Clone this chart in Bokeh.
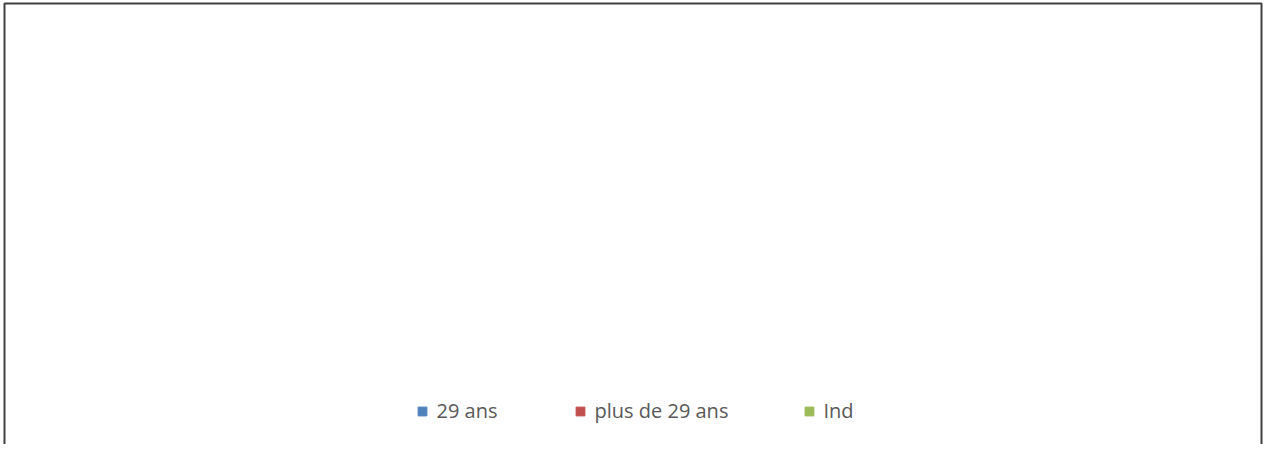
import math
from bokeh.plotting import figure
from bokeh.models import Legend, LegendItem, Range1d, BoxAnnotation
from bokeh.embed import file_html
from bokeh.resources import INLINE

# Data (chart is empty in the reference: all slices are zero)
categories = ["29 ans", "plus de 29 ans", "Ind"]
values = [0, 0, 0]
colors = ["#4F81BD", "#C0504D", "#9BBB59"]

W, H = 1265, 444
p = figure(width=W, height=H, output_backend="svg", toolbar_location=None,
           x_range=Range1d(0, W), y_range=Range1d(H, 0),
           min_border=0, match_aspect=False)
p.axis.visible = False
p.grid.visible = False
p.outline_line_color = None
p.background_fill_color = "white"
p.border_fill_color = "white"

# chart-area border (bottom edge lies below the visible page, as in the reference)
p.add_layout(BoxAnnotation(left=4, right=1261, top=3, bottom=H + 20,
                           fill_alpha=0, line_color="#404040", line_alpha=1.0,
                           line_width=2))

total = sum(values)
start = 0.0
renderers = []
for cat, v, c in zip(categories, values, colors):
    ang = (v / total * 2 * math.pi) if total else 0.0
    if ang > 0:
        p.wedge(x=W / 2, y=200, radius=150, start_angle=start, end_angle=start + ang,
                fill_color=c, line_color="white")
    start += ang
    r = p.scatter(x=[float("nan")], y=[float("nan")], marker="square", size=9,
                  fill_color=c, line_color=c)
    renderers.append(r)

# Legend items placed like the reference (one legend per item)
xs = [410.5, 568.5, 797.5]
for cat, r, x in zip(categories, renderers, xs):
    lg = Legend(items=[LegendItem(label=cat, renderers=[r])],
                location=(x, 20), orientation="horizontal",
                padding=0, margin=0, border_line_color=None,
                background_fill_alpha=0,
                glyph_width=22, glyph_height=24, label_height=24, label_standoff=4,
                label_text_font="Open Sans", label_text_font_size="20px",
                label_text_color="#595959", label_text_baseline="middle")
    p.add_layout(lg, "center")

open("out.html", "w").write(file_html(p, INLINE))
